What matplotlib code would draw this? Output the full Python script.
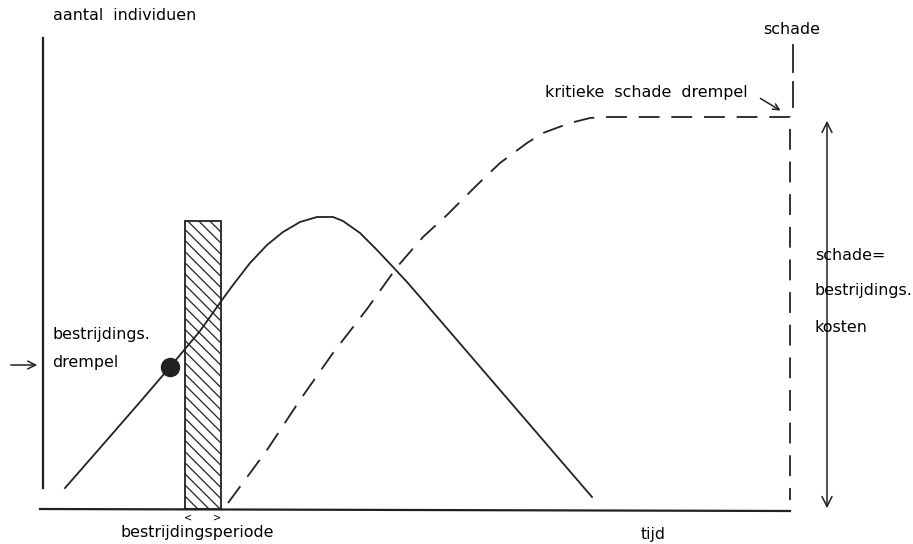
import matplotlib.pyplot as plt

# Schematic: number of individuals and damage over time (units ~ pixels of original)
tijd_individuen = [65, 100, 140, 170, 200, 222, 233, 250, 267, 283, 300, 317, 333,
                   343, 360, 377, 393, 407, 420, 592]
aantal_individuen = [56, 96, 142, 177, 213, 244, 259, 281, 299, 312, 322, 327, 327,
                     323, 311, 294, 277, 262, 247, 47]

tijd_schade = [228, 267, 300, 333, 367, 397, 423, 447, 477, 500, 527, 543, 570, 590, 603, 790, 790]
schade = [41, 94, 144, 191, 235, 277, 307, 329, 359, 381, 401, 411, 421, 426, 427, 427, 44]

# threshold point and control period
drempel_tijd = 170
drempel_waarde = 177
periode_start = 185
periode_eind = 221
periode_top = 323

plt.rcParams['font.family'] = ['DejaVu Sans']
plt.rcParams['lines.scale_dashes'] = False
plt.rcParams['hatch.linewidth'] = 0.9

fig = plt.figure(figsize=(9.13, 5.44), dpi=100)
ax = fig.add_axes([0, 0, 1, 1])
ax.set_xlim(0, 913)
ax.set_ylim(0, 544)
ax.axis('off')

ink = '#222222'

# axes drawn by hand
ax.plot([43, 43], [56, 506], color=ink, lw=1.6)
ax.plot([40, 790], [35, 33], color=ink, lw=1.6)

# control period (hatched bar)
ax.bar((periode_start + periode_eind) / 2, periode_top - 35, width=periode_eind - periode_start,
       bottom=35, facecolor='white', edgecolor=ink, hatch='\\\\\\', lw=1.3)

# curves
ax.plot(tijd_individuen, aantal_individuen, color=ink, lw=1.3)
ax.plot(tijd_schade, schade, color=ink, lw=1.3, dashes=(15, 8.5))
ax.plot([793, 793], [499, 472], color=ink, lw=1.3)
ax.plot([793, 793], [462, 437], color=ink, lw=1.3)
ax.plot(drempel_tijd, drempel_waarde, 'o', color=ink, ms=13)

# arrows
arr = dict(arrowstyle='->', color=ink, lw=1.1, mutation_scale=14)
ax.annotate('', xy=(40, 179), xytext=(8, 179), arrowprops=arr)
ax.annotate('', xy=(783, 432), xytext=(758, 447),
            arrowprops=dict(arrowstyle='->', color=ink, lw=1.1, mutation_scale=11))
ax.annotate('', xy=(827, 426), xytext=(827, 33),
            arrowprops=dict(arrowstyle='<->', color=ink, lw=1.1, mutation_scale=18))

# texts
fs = 11.4
ax.text(53, 529, 'aantal  individuen', fontsize=fs, va='center', ha='left')
ax.text(52, 210, 'bestrijdings.', fontsize=fs, va='center', ha='left')
ax.text(52, 181, 'drempel', fontsize=fs, va='center', ha='left')
ax.text(197, 11, 'bestrijdingsperiode', fontsize=fs, va='center', ha='center')
ax.text(188, 27, '<', fontsize=7, va='center', ha='center')
ax.text(217, 27, '>', fontsize=7, va='center', ha='center')
ax.text(653, 10, 'tijd', fontsize=fs, va='center', ha='center')
ax.text(792, 515, 'schade', fontsize=fs, va='center', ha='center')
ax.text(545, 452, 'kritieke  schade  drempel', fontsize=fs, va='center', ha='left')
ax.text(815, 289, 'schade=', fontsize=fs, va='center', ha='left')
ax.text(815, 254, 'bestrijdings.', fontsize=fs, va='center', ha='left')
ax.text(815, 217, 'kosten', fontsize=fs, va='center', ha='left')

fig.savefig('out.png', dpi=100)
